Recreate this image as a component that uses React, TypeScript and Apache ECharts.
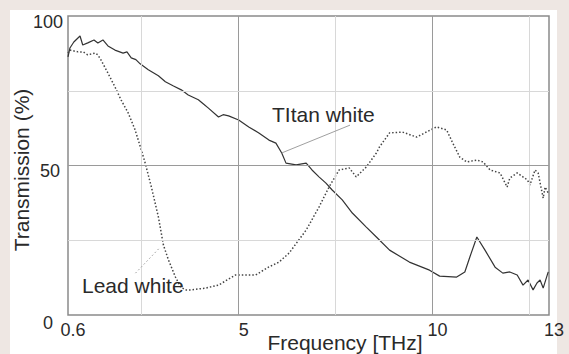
import React, { useEffect, useRef } from 'react';
import * as echarts from 'echarts';

// Titan white (solid)
const titanX = [0.6, 0.65, 0.75, 0.91, 0.98, 1.11, 1.27, 1.37, 1.5, 1.63, 1.81, 2.02, 2.12, 2.23, 2.35, 2.46, 2.67, 2.8, 2.93, 3.11, 3.32, 3.52, 3.7, 3.96, 4.1, 4.22, 4.48, 4.6, 4.74, 5.0, 5.26, 5.52, 5.78, 5.96, 6.11, 6.22, 6.48, 6.74, 6.89, 7.07, 7.25, 7.41, 7.67, 7.93, 8.29, 8.55, 8.89, 9.4, 9.92, 10.18, 10.62, 10.83, 10.96, 11.14, 11.35, 11.61, 11.81, 11.99, 12.18, 12.33, 12.46, 12.59, 12.69, 12.77, 12.85, 12.98];
const titanY = [86.3, 89.3, 91.3, 93.3, 90.3, 91, 92, 91, 92, 90, 88.6, 87.6, 88, 86, 85.4, 84, 82, 81, 80, 78, 76.6, 75.3, 73.6, 72, 70.5, 69.2, 66.2, 67, 66.6, 65.2, 62.9, 60.9, 58.5, 57.5, 54.2, 50.8, 50.2, 50.8, 48.5, 46.2, 44.1, 41.8, 38.5, 34.1, 29.4, 26.1, 21.7, 17.7, 15, 13, 12.7, 14.4, 19.4, 26.1, 21.7, 16, 14, 14.4, 13.4, 10, 11.7, 8.4, 10.7, 11.7, 9, 14.4];

// Lead white (dotted)
const leadX = [0.6, 0.65, 0.86, 0.99, 1.11, 1.3, 1.37, 1.45, 1.63, 1.81, 1.97, 2.15, 2.33, 2.49, 2.59, 2.75, 2.93, 3.06, 3.19, 3.37, 3.5, 3.63, 3.78, 4.15, 4.48, 4.92, 5.44, 5.78, 6.04, 6.3, 6.55, 6.74, 7.07, 7.33, 7.59, 7.85, 8.03, 8.29, 8.55, 8.63, 8.89, 9.22, 9.59, 9.84, 10.1, 10.36, 10.52, 10.7, 10.88, 11.14, 11.3, 11.48, 11.74, 11.92, 11.99, 12.18, 12.44, 12.51, 12.64, 12.72, 12.85, 12.9, 12.98];
const leadY = [87.6, 88.6, 88, 88, 87, 87.6, 87, 85.3, 80.9, 76.3, 71.9, 67.6, 61.9, 55.2, 50.8, 42.8, 32.8, 23.4, 18.4, 12.7, 9.4, 8.4, 8.4, 9, 10, 13.4, 13.4, 16.1, 17.7, 20.7, 25.1, 28.4, 36.1, 42.8, 48.5, 49.2, 46.2, 49.5, 54.2, 56.2, 60.9, 61.2, 59.5, 61.2, 62.9, 61.9, 57.5, 52.8, 51.2, 51.8, 51.2, 48.5, 47.5, 42.8, 45.8, 47.5, 45.2, 43.5, 48.5, 47.5, 39.1, 42.8, 40.8];

const xLabelValues = [0.6, 5, 10, 13];
const yLabelValues = [0, 50, 100];
const xGridLight = [2.5, 7.5, 12.5];
const xGridStrong = [5, 10];
const yGridLight = [25, 75];
const yGridStrong = [50];
const xTickValues = [2.5, 5, 7.5, 10, 12.5];
const yTickValues = [25, 50, 75];

const FONT = '"Liberation Sans", Arial, Helvetica, sans-serif';
const TXT = '#2a2a2a';

export default function App() {
  const ref = useRef<HTMLDivElement>(null);
  useEffect(() => {
    if (!ref.current) return;
    const chart = echarts.init(ref.current, undefined, { renderer: 'svg' });
    const zip = (xs: number[], ys: number[]) => xs.map((x, i) => [x, ys[i]]);
    const gridLines = [
      ...xGridLight.map((v) => ({ xAxis: v, lineStyle: { color: '#d8d8d8', width: 1, type: 'solid' } })),
      ...xGridStrong.map((v) => ({ xAxis: v, lineStyle: { color: '#9a9a9a', width: 1, type: 'solid' } })),
      ...yGridLight.map((v) => ({ yAxis: v, lineStyle: { color: '#d8d8d8', width: 1, type: 'solid' } })),
      ...yGridStrong.map((v) => ({ yAxis: v, lineStyle: { color: '#9a9a9a', width: 1, type: 'solid' } })),
    ];
    chart.setOption({
      animation: false,
      grid: {
        left: 68, right: 20, top: 16, bottom: 39,
        show: true, backgroundColor: '#ffffff', borderColor: '#8a8a8a', borderWidth: 1.5,
      },
      xAxis: {
        type: 'value', min: 0.6, max: 13,
        axisLine: { show: false },
        splitLine: { show: false },
        axisTick: { show: true, inside: true, length: 4, customValues: xTickValues, lineStyle: { color: '#777' } },
        axisLabel: {
          customValues: xLabelValues, fontSize: 18, color: TXT, fontFamily: FONT, margin: 6,
          padding: [0, 0, 0, 10],
          formatter: (v: number) => String(v),
        },
      },
      yAxis: {
        type: 'value', min: 0, max: 100,
        axisLine: { show: false },
        splitLine: { show: false },
        axisTick: { show: true, inside: true, length: 4, customValues: yTickValues, lineStyle: { color: '#777' } },
        axisLabel: {
          customValues: yLabelValues, fontSize: 18, color: TXT, fontFamily: FONT, margin: 5,
          formatter: (v: number) => (v === 0 ? '{z|0}' : v === 50 ? '{f|50}' : '{h|' + v + '}'),
          rich: {
            z: { fontSize: 18, color: TXT, fontFamily: FONT, padding: [16, 10, 0, 0] },
            f: { fontSize: 18, color: TXT, fontFamily: FONT, padding: [10, 3, 0, 0] },
            h: { fontSize: 18, color: TXT, fontFamily: FONT, padding: [12, 0, 0, 0] },
          },
        },
      },
      series: [
        {
          type: 'line', data: [], z: 1, silent: true,
          markLine: { silent: true, symbol: 'none', label: { show: false }, data: gridLines },
        },
        {
          name: 'Titan white', type: 'line', data: zip(titanX, titanY), showSymbol: false, z: 3,
          lineStyle: { color: '#333', width: 1.2 },
          markLine: {
            silent: true, symbol: 'none', label: { show: false },
            lineStyle: { color: '#a0a0a0', width: 1, type: 'solid' },
            data: [[{ coord: [7.87, 63.5] }, { coord: [6.11, 54.2] }]],
          },
        },
        {
          name: 'Lead white', type: 'line', data: zip(leadX, leadY), showSymbol: false, z: 3,
          lineStyle: { color: '#444', width: 1.5, type: [1.5, 2] },
          markLine: {
            silent: true, symbol: 'none', label: { show: false },
            lineStyle: { color: '#999', width: 1, type: [1.5, 2.5] },
            data: [[{ coord: [2.34, 14] }, { coord: [2.98, 22.7] }]],
          },
        },
      ],
      graphic: [
        { type: 'text', x: 21, y: 170, rotation: Math.PI / 2, style: { text: 'Transmission (%)', fontSize: 21, fontFamily: FONT, fill: TXT, align: 'center', verticalAlign: 'middle' } },
        { type: 'text', x: 345, y: 342, style: { text: 'Frequency [THz]', fontSize: 21, fontFamily: FONT, fill: TXT, align: 'center', verticalAlign: 'middle' } },
        { type: 'text', x: 272, y: 114, z: 10, style: { text: 'TItan white', fontSize: 21, fontFamily: FONT, fill: TXT, align: 'left', verticalAlign: 'middle' } },
        { type: 'text', x: 82, y: 285, z: 10, style: { text: 'Lead white', fontSize: 21, fontFamily: FONT, fill: TXT, align: 'left', verticalAlign: 'middle' } },
      ],
    });
    return () => chart.dispose();
  }, []);
  return (
    <div style={{ position: 'fixed', left: 0, top: 0, width: 569, height: 354, background: '#eee7e3', overflow: 'hidden' }}>
      <div style={{ position: 'absolute', left: 10, top: 10, width: 547, height: 344, background: '#ffffff' }} />
      <div ref={ref} style={{ position: 'absolute', left: 0, top: 0, width: 569, height: 354 }} />
    </div>
  );
}
